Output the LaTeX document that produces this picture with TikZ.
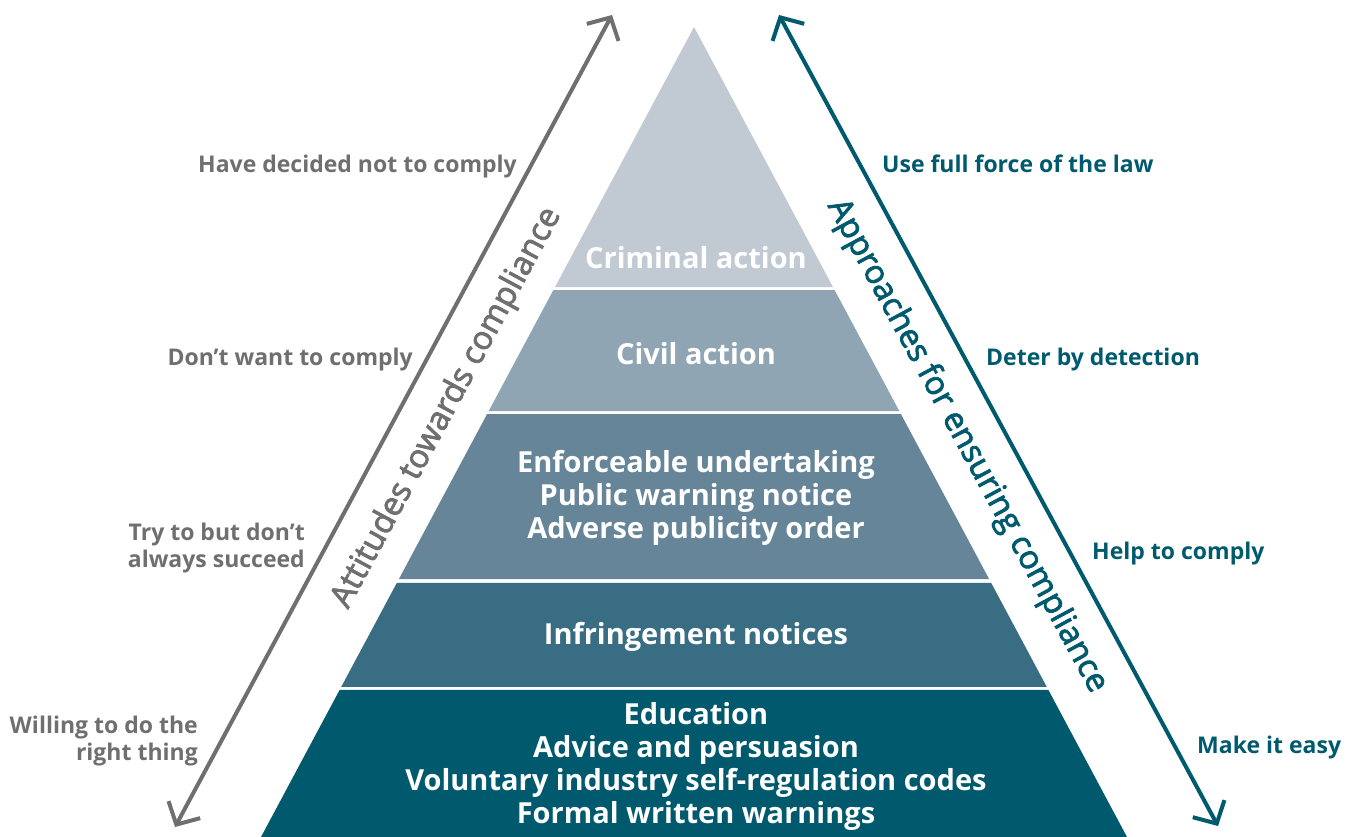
\documentclass[tikz,border=0pt]{standalone}
\usepackage{fontspec}
\setmainfont{Open Sans}
\newfontfamily\titlefont{Open Sans}[FakeBold=2.5]
\usetikzlibrary{calc,arrows.meta,positioning}
\definecolor{crimcol}{HTML}{C1CAD3}
\definecolor{civilcol}{HTML}{8FA5B3}
\definecolor{enforcecol}{HTML}{678598}
\definecolor{infringecol}{HTML}{386D83}
\definecolor{educol}{HTML}{00596D}
\definecolor{notegray}{HTML}{6F6F6F}
\definecolor{noteteal}{HTML}{005A6E}
\tikzset{layertext/.style={
            text=white,
            font=\fontsize{29}{33}\selectfont\bfseries,
            align=center,
            anchor=base,
            inner sep=0pt
        },
        leftnote/.style={
            text=notegray,
            font=\fontsize{23}{27}\selectfont\bfseries,
            align=right,
            anchor=base east,
            inner sep=0pt
        },
        rightnote/.style={
            text=noteteal,
            font=\fontsize{23}{27}\selectfont\bfseries,
            align=left,
            anchor=base west,
            inner sep=0pt
        },
        sidetitle/.style={
            font=\fontsize{32.5}{36}\selectfont\titlefont,
            inner sep=0pt
        },
        sidearrow/.style={
            line width=4pt,
            {Straight Barb[length=17pt,width=36pt]}-{Straight Barb[length=17pt,width=36pt]}
        }
    }

\begin{document}
\begin{tikzpicture}[x=1pt,y=-1pt]
        \useasboundingbox (0,0) rectangle (1351,837);
        % pyramid corners
        \coordinate (apex) at (694,27);
        \coordinate (baseL) at (261,837);
        \coordinate (baseR) at (1127,837);
        \foreach \ta/\tb/\col in {0/0.3210/crimcol, 0.3247/0.4741/civilcol,
                0.4778/0.6815/enforcecol, 0.6864/0.8148/infringecol, 0.8185/1/educol}
            \fill[\col] ($(apex)!\ta!(baseL)$) -- ($(apex)!\tb!(baseL)$)
                -- ($(apex)!\tb!(baseR)$) -- ($(apex)!\ta!(baseR)$) -- cycle;
        % layer texts (multi-line ones sit on their last baseline)
        \node[layertext] (criminal) at (696,268) {Criminal action};
        \node[layertext] (civil) at (696,364) {Civil action};
        \node[layertext] (enforce) at (696,538) {Enforceable undertaking\\Public warning notice\\Adverse publicity order};
        \node[layertext] (infringe) at (696,644) {Infringement notices};
        \node[layertext] (educ) at (696,823) {Education\\Advice and persuasion\\Voluntary industry self-regulation codes\\Formal written warnings};
        % side arrows
        \coordinate (attTop) at (612,15);
        \coordinate (attBot) at (175,827);
        \coordinate (appTop) at (779,15);
        \coordinate (appBot) at (1218,826);
        \draw[sidearrow, notegray] (attBot) -- (attTop);
        \draw[sidearrow, noteteal] (appTop) -- (appBot);
        \node[sidetitle, text=notegray, rotate=61.7] (attitudes) at (447,408) {Attitudes towards compliance};
        \node[sidetitle, text=noteteal, rotate=-61.6] (approaches) at (967,446) {Approaches for ensuring compliance};
        % attitudes
        \node[leftnote] (decided) at (517,173) {Have decided not to comply};
        \node[leftnote] (dontwant) at (413,365) {Don’t want to comply};
        \node[leftnote] (tryto) at (305,567) {Try to but don’t\\always succeed};
        \node[leftnote] (willing) at (198,760) {Willing to do the\\right thing};
        % approaches
        \node[rightnote] (fullforce) at (882,173) {Use full force of the law};
        \node[rightnote] (deter) at (986,365) {Deter by detection};
        \node[rightnote] (help) at (1092,559) {Help to comply};
        \node[rightnote] (easy) at (1197,753) {Make it easy};
    \end{tikzpicture}
\end{document}
